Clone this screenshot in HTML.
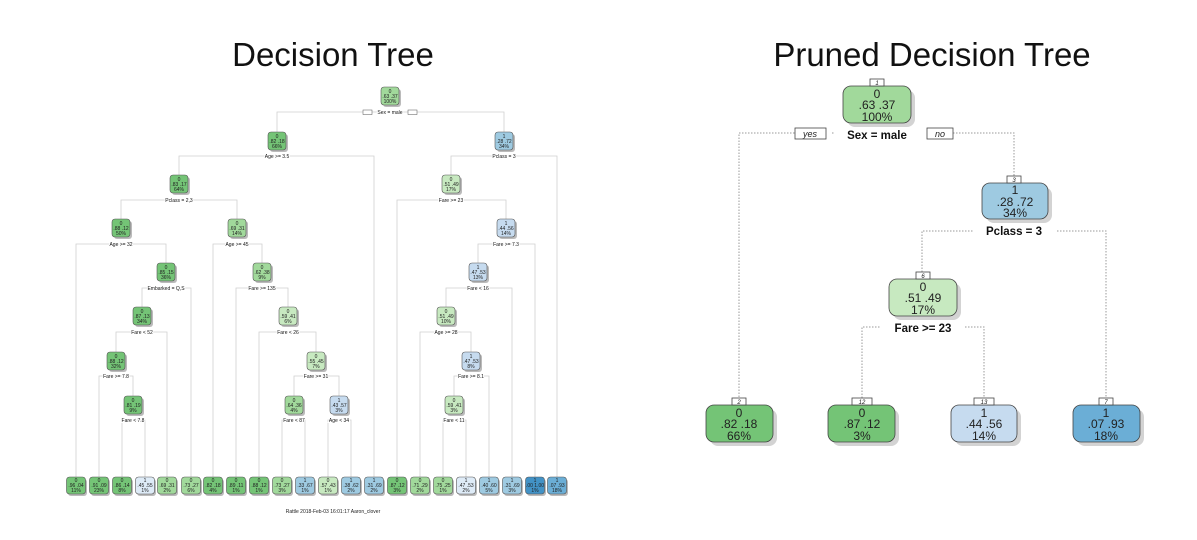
<!DOCTYPE html>
<html><head><meta charset="utf-8"><style>
html,body{margin:0;padding:0;background:#fff;}
svg{display:block;font-family:"Liberation Sans",sans-serif;}
.l text{font-size:5px;text-anchor:middle;fill:#222;}
.l .lb{font-size:5px;stroke:#fff;stroke-width:2px;paint-order:stroke;fill:#111;}
.c{fill:none;stroke:#d0d0d0;stroke-width:0.8;}
.d{fill:none;stroke:#999;stroke-width:1;stroke-dasharray:1.5 1.5;}
.r text{text-anchor:middle;fill:#222;font-size:12px;}
.r .lb{font-weight:bold;font-size:11.5px;fill:#111;}
</style></head><body>
<svg width="1197" height="540" viewBox="0 0 1197 540">
<rect width="1197" height="540" fill="#fff"/>
<text x="333" y="66" font-size="33" text-anchor="middle" fill="#111">Decision Tree</text>
<text x="932" y="66" font-size="33" text-anchor="middle" fill="#111">Pruned Decision Tree</text>

<g class="l">
<path class="c" d="M277,132V112H504V132"/>
<path class="c" d="M179,177V156H374V477"/>
<path class="c" d="M451,177V156H557V477"/>
<path class="c" d="M121,220V200H237V220"/>
<path class="c" d="M397,477V200H506V220"/>
<path class="c" d="M76,477V244H166V263"/>
<path class="c" d="M213,477V244H262V263"/>
<path class="c" d="M478,263V244H535V477"/>
<path class="c" d="M142,307V288H191V477"/>
<path class="c" d="M236,477V288H288V307"/>
<path class="c" d="M446,307V288H512V477"/>
<path class="c" d="M116,352V332H167V477"/>
<path class="c" d="M259,477V332H316V352"/>
<path class="c" d="M420,477V332H471V352"/>
<path class="c" d="M99,477V376H133V396"/>
<path class="c" d="M294,396V376H339V396"/>
<path class="c" d="M454,396V376H489V477"/>
<path class="c" d="M122,477V420H145V477"/>
<path class="c" d="M282,477V420H305V477"/>
<path class="c" d="M328,477V420H351V477"/>
<path class="c" d="M443,477V420H466V477"/>
<rect x="363" y="110" width="9" height="4.5" fill="#fff" stroke="#555" stroke-width="0.5"/>
<rect x="408" y="110" width="9" height="4.5" fill="#fff" stroke="#555" stroke-width="0.5"/>
<text class="lb" x="390" y="114">Sex = male</text>
<text class="lb" x="277" y="158">Age &gt;= 3.5</text>
<text class="lb" x="504" y="158">Pclass = 3</text>
<text class="lb" x="179" y="202">Pclass = 2,3</text>
<text class="lb" x="451" y="202">Fare &gt;= 23</text>
<text class="lb" x="121" y="246">Age &gt;= 32</text>
<text class="lb" x="237" y="246">Age &gt;= 45</text>
<text class="lb" x="506" y="246">Fare &gt;= 7.3</text>
<text class="lb" x="166" y="290">Embarked = Q,S</text>
<text class="lb" x="262" y="290">Fare &gt;= 135</text>
<text class="lb" x="478" y="290">Fare &lt; 16</text>
<text class="lb" x="142" y="334">Fare &lt; 52</text>
<text class="lb" x="288" y="334">Fare &lt; 26</text>
<text class="lb" x="446" y="334">Age &gt;= 28</text>
<text class="lb" x="116" y="378">Fare &gt;= 7.8</text>
<text class="lb" x="316" y="378">Fare &gt;= 31</text>
<text class="lb" x="471" y="378">Fare &gt;= 8.1</text>
<text class="lb" x="133" y="422">Fare &lt; 7.8</text>
<text class="lb" x="294" y="422">Fare &lt; 87</text>
<text class="lb" x="339" y="422">Age &lt; 34</text>
<text class="lb" x="454" y="422">Fare &lt; 11</text>

<g stroke="#555" stroke-width="0.6">
<rect x="383" y="89" width="18" height="18" rx="3" fill="#bbb" stroke="none"/><rect x="381" y="87" width="18" height="18" rx="3" fill="#a1d99b"/>
<rect x="270" y="134" width="18" height="18" rx="3" fill="#bbb" stroke="none"/><rect x="268" y="132" width="18" height="18" rx="3" fill="#74c476"/>
<rect x="497" y="134" width="18" height="18" rx="3" fill="#bbb" stroke="none"/><rect x="495" y="132" width="18" height="18" rx="3" fill="#9ecae1"/>
<rect x="172" y="177" width="18" height="18" rx="3" fill="#bbb" stroke="none"/><rect x="170" y="175" width="18" height="18" rx="3" fill="#74c476"/>
<rect x="444" y="177" width="18" height="18" rx="3" fill="#bbb" stroke="none"/><rect x="442" y="175" width="18" height="18" rx="3" fill="#c7e9c0"/>
<rect x="114" y="221" width="18" height="18" rx="3" fill="#bbb" stroke="none"/><rect x="112" y="219" width="18" height="18" rx="3" fill="#74c476"/>
<rect x="230" y="221" width="18" height="18" rx="3" fill="#bbb" stroke="none"/><rect x="228" y="219" width="18" height="18" rx="3" fill="#a1d99b"/>
<rect x="499" y="221" width="18" height="18" rx="3" fill="#bbb" stroke="none"/><rect x="497" y="219" width="18" height="18" rx="3" fill="#c6dbef"/>
<rect x="159" y="265" width="18" height="18" rx="3" fill="#bbb" stroke="none"/><rect x="157" y="263" width="18" height="18" rx="3" fill="#74c476"/>
<rect x="255" y="265" width="18" height="18" rx="3" fill="#bbb" stroke="none"/><rect x="253" y="263" width="18" height="18" rx="3" fill="#a1d99b"/>
<rect x="471" y="265" width="18" height="18" rx="3" fill="#bbb" stroke="none"/><rect x="469" y="263" width="18" height="18" rx="3" fill="#c6dbef"/>
<rect x="135" y="309" width="18" height="18" rx="3" fill="#bbb" stroke="none"/><rect x="133" y="307" width="18" height="18" rx="3" fill="#74c476"/>
<rect x="281" y="309" width="18" height="18" rx="3" fill="#bbb" stroke="none"/><rect x="279" y="307" width="18" height="18" rx="3" fill="#c7e9c0"/>
<rect x="439" y="309" width="18" height="18" rx="3" fill="#bbb" stroke="none"/><rect x="437" y="307" width="18" height="18" rx="3" fill="#c7e9c0"/>
<rect x="109" y="354" width="18" height="18" rx="3" fill="#bbb" stroke="none"/><rect x="107" y="352" width="18" height="18" rx="3" fill="#74c476"/>
<rect x="309" y="354" width="18" height="18" rx="3" fill="#bbb" stroke="none"/><rect x="307" y="352" width="18" height="18" rx="3" fill="#c7e9c0"/>
<rect x="464" y="354" width="18" height="18" rx="3" fill="#bbb" stroke="none"/><rect x="462" y="352" width="18" height="18" rx="3" fill="#c6dbef"/>
<rect x="126" y="398" width="18" height="18" rx="3" fill="#bbb" stroke="none"/><rect x="124" y="396" width="18" height="18" rx="3" fill="#74c476"/>
<rect x="287" y="398" width="18" height="18" rx="3" fill="#bbb" stroke="none"/><rect x="285" y="396" width="18" height="18" rx="3" fill="#a1d99b"/>
<rect x="332" y="398" width="18" height="18" rx="3" fill="#bbb" stroke="none"/><rect x="330" y="396" width="18" height="18" rx="3" fill="#c6dbef"/>
<rect x="447" y="398" width="18" height="18" rx="3" fill="#bbb" stroke="none"/><rect x="445" y="396" width="18" height="18" rx="3" fill="#c7e9c0"/>
</g>
<text x="390" y="93">0</text><text x="390" y="98">.63 .37</text><text x="390" y="103">100%</text>
<text x="277" y="138">0</text><text x="277" y="143">.82 .18</text><text x="277" y="148">66%</text>
<text x="504" y="138">1</text><text x="504" y="143">.28 .72</text><text x="504" y="148">34%</text>
<text x="179" y="181">0</text><text x="179" y="186">.83 .17</text><text x="179" y="191">64%</text>
<text x="451" y="181">0</text><text x="451" y="186">.51 .49</text><text x="451" y="191">17%</text>
<text x="121" y="225">0</text><text x="121" y="230">.88 .12</text><text x="121" y="235">50%</text>
<text x="237" y="225">0</text><text x="237" y="230">.69 .31</text><text x="237" y="235">14%</text>
<text x="506" y="225">1</text><text x="506" y="230">.44 .56</text><text x="506" y="235">14%</text>
<text x="166" y="269">0</text><text x="166" y="274">.85 .15</text><text x="166" y="279">36%</text>
<text x="262" y="269">0</text><text x="262" y="274">.62 .38</text><text x="262" y="279">9%</text>
<text x="478" y="269">1</text><text x="478" y="274">.47 .53</text><text x="478" y="279">13%</text>
<text x="142" y="313">0</text><text x="142" y="318">.87 .13</text><text x="142" y="323">34%</text>
<text x="288" y="313">0</text><text x="288" y="318">.59 .41</text><text x="288" y="323">6%</text>
<text x="446" y="313">0</text><text x="446" y="318">.51 .49</text><text x="446" y="323">10%</text>
<text x="116" y="358">0</text><text x="116" y="363">.88 .12</text><text x="116" y="368">32%</text>
<text x="316" y="358">0</text><text x="316" y="363">.55 .45</text><text x="316" y="368">7%</text>
<text x="471" y="358">1</text><text x="471" y="363">.47 .53</text><text x="471" y="368">8%</text>
<text x="133" y="402">0</text><text x="133" y="407">.81 .19</text><text x="133" y="412">9%</text>
<text x="294" y="402">0</text><text x="294" y="407">.64 .36</text><text x="294" y="412">4%</text>
<text x="339" y="402">1</text><text x="339" y="407">.43 .57</text><text x="339" y="412">3%</text>
<text x="454" y="402">0</text><text x="454" y="407">.59 .41</text><text x="454" y="412">3%</text>

<g stroke="#555" stroke-width="0.6">
<rect x="68" y="479" width="19" height="17" rx="3" fill="#bbb" stroke="none"/><rect x="66.5" y="477" width="19" height="17" rx="3" fill="#74c476"/>
<rect x="91" y="479" width="19" height="17" rx="3" fill="#bbb" stroke="none"/><rect x="89.5" y="477" width="19" height="17" rx="3" fill="#74c476"/>
<rect x="114" y="479" width="19" height="17" rx="3" fill="#bbb" stroke="none"/><rect x="112.5" y="477" width="19" height="17" rx="3" fill="#74c476"/>
<rect x="137" y="479" width="19" height="17" rx="3" fill="#bbb" stroke="none"/><rect x="135.5" y="477" width="19" height="17" rx="3" fill="#deebf7"/>
<rect x="159" y="479" width="19" height="17" rx="3" fill="#bbb" stroke="none"/><rect x="157.5" y="477" width="19" height="17" rx="3" fill="#a1d99b"/>
<rect x="183" y="479" width="19" height="17" rx="3" fill="#bbb" stroke="none"/><rect x="181.5" y="477" width="19" height="17" rx="3" fill="#a1d99b"/>
<rect x="205" y="479" width="19" height="17" rx="3" fill="#bbb" stroke="none"/><rect x="203.5" y="477" width="19" height="17" rx="3" fill="#74c476"/>
<rect x="228" y="479" width="19" height="17" rx="3" fill="#bbb" stroke="none"/><rect x="226.5" y="477" width="19" height="17" rx="3" fill="#74c476"/>
<rect x="251" y="479" width="19" height="17" rx="3" fill="#bbb" stroke="none"/><rect x="249.5" y="477" width="19" height="17" rx="3" fill="#74c476"/>
<rect x="274" y="479" width="19" height="17" rx="3" fill="#bbb" stroke="none"/><rect x="272.5" y="477" width="19" height="17" rx="3" fill="#a1d99b"/>
<rect x="297" y="479" width="19" height="17" rx="3" fill="#bbb" stroke="none"/><rect x="295.5" y="477" width="19" height="17" rx="3" fill="#9ecae1"/>
<rect x="320" y="479" width="19" height="17" rx="3" fill="#bbb" stroke="none"/><rect x="318.5" y="477" width="19" height="17" rx="3" fill="#c7e9c0"/>
<rect x="343" y="479" width="19" height="17" rx="3" fill="#bbb" stroke="none"/><rect x="341.5" y="477" width="19" height="17" rx="3" fill="#9ecae1"/>
<rect x="366" y="479" width="19" height="17" rx="3" fill="#bbb" stroke="none"/><rect x="364.5" y="477" width="19" height="17" rx="3" fill="#9ecae1"/>
<rect x="389" y="479" width="19" height="17" rx="3" fill="#bbb" stroke="none"/><rect x="387.5" y="477" width="19" height="17" rx="3" fill="#74c476"/>
<rect x="412" y="479" width="19" height="17" rx="3" fill="#bbb" stroke="none"/><rect x="410.5" y="477" width="19" height="17" rx="3" fill="#a1d99b"/>
<rect x="435" y="479" width="19" height="17" rx="3" fill="#bbb" stroke="none"/><rect x="433.5" y="477" width="19" height="17" rx="3" fill="#a1d99b"/>
<rect x="458" y="479" width="19" height="17" rx="3" fill="#bbb" stroke="none"/><rect x="456.5" y="477" width="19" height="17" rx="3" fill="#deebf7"/>
<rect x="481" y="479" width="19" height="17" rx="3" fill="#bbb" stroke="none"/><rect x="479.5" y="477" width="19" height="17" rx="3" fill="#9ecae1"/>
<rect x="504" y="479" width="19" height="17" rx="3" fill="#bbb" stroke="none"/><rect x="502.5" y="477" width="19" height="17" rx="3" fill="#9ecae1"/>
<rect x="527" y="479" width="19" height="17" rx="3" fill="#bbb" stroke="none"/><rect x="525.5" y="477" width="19" height="17" rx="3" fill="#4292c6"/>
<rect x="549" y="479" width="19" height="17" rx="3" fill="#bbb" stroke="none"/><rect x="547.5" y="477" width="19" height="17" rx="3" fill="#6baed6"/>
</g>
<text x="76" y="482">0</text><text x="76" y="487">.96 .04</text><text x="76" y="492">11%</text>
<text x="99" y="482">0</text><text x="99" y="487">.91 .09</text><text x="99" y="492">23%</text>
<text x="122" y="482">0</text><text x="122" y="487">.86 .14</text><text x="122" y="492">8%</text>
<text x="145" y="482">1</text><text x="145" y="487">.45 .55</text><text x="145" y="492">1%</text>
<text x="167" y="482">0</text><text x="167" y="487">.69 .31</text><text x="167" y="492">2%</text>
<text x="191" y="482">0</text><text x="191" y="487">.73 .27</text><text x="191" y="492">6%</text>
<text x="213" y="482">0</text><text x="213" y="487">.82 .18</text><text x="213" y="492">4%</text>
<text x="236" y="482">0</text><text x="236" y="487">.89 .11</text><text x="236" y="492">1%</text>
<text x="259" y="482">0</text><text x="259" y="487">.88 .12</text><text x="259" y="492">1%</text>
<text x="282" y="482">0</text><text x="282" y="487">.73 .27</text><text x="282" y="492">3%</text>
<text x="305" y="482">1</text><text x="305" y="487">.33 .67</text><text x="305" y="492">1%</text>
<text x="328" y="482">0</text><text x="328" y="487">.57 .43</text><text x="328" y="492">1%</text>
<text x="351" y="482">1</text><text x="351" y="487">.38 .62</text><text x="351" y="492">2%</text>
<text x="374" y="482">1</text><text x="374" y="487">.31 .69</text><text x="374" y="492">2%</text>
<text x="397" y="482">0</text><text x="397" y="487">.87 .12</text><text x="397" y="492">3%</text>
<text x="420" y="482">0</text><text x="420" y="487">.71 .29</text><text x="420" y="492">2%</text>
<text x="443" y="482">0</text><text x="443" y="487">.75 .25</text><text x="443" y="492">1%</text>
<text x="466" y="482">1</text><text x="466" y="487">.47 .53</text><text x="466" y="492">2%</text>
<text x="489" y="482">1</text><text x="489" y="487">.40 .60</text><text x="489" y="492">5%</text>
<text x="512" y="482">1</text><text x="512" y="487">.31 .69</text><text x="512" y="492">3%</text>
<text x="535" y="482">1</text><text x="535" y="487">.00 1.00</text><text x="535" y="492">1%</text>
<text x="557" y="482">1</text><text x="557" y="487">.07 .93</text><text x="557" y="492">18%</text>
<text x="333" y="513" style="font-size:5px">Rattle 2018-Feb-03 16:01:17 Aaron_clover</text>
</g>

<g class="r">
<path class="d" d="M739,400V133H795"/>
<path class="d" d="M832,133H834"/>
<path class="d" d="M953,133H1014V176"/>
<path class="d" d="M922,272V231H973"/>
<path class="d" d="M1057,231H1106V398"/>
<path class="d" d="M862,398V327H880"/>
<path class="d" d="M965,327H984V398"/>
<rect x="795" y="128" width="31" height="11" fill="#fff" stroke="#444" stroke-width="0.8"/>
<text x="810" y="137" style="font-size:9px;font-style:italic">yes</text>
<rect x="927" y="128" width="26" height="11" fill="#fff" stroke="#444" stroke-width="0.8"/>
<text x="940" y="137" style="font-size:9px;font-style:italic">no</text>
<text class="lb" x="877" y="139">Sex = male</text>
<text class="lb" x="1014" y="235">Pclass = 3</text>
<text class="lb" x="923" y="332">Fare &gt;= 23</text>
<g stroke="#444" stroke-width="0.8">
<rect x="847" y="90" width="68" height="37" rx="8" fill="#c8c8c8" stroke="none" opacity="0.8"/>
<rect x="843" y="86" width="68" height="37" rx="8" fill="#a1d99b"/>
<rect x="986" y="187" width="66" height="36" rx="8" fill="#c8c8c8" stroke="none" opacity="0.8"/>
<rect x="982" y="183" width="66" height="36" rx="8" fill="#9ecae1"/>
<rect x="893" y="283" width="68" height="37" rx="8" fill="#c8c8c8" stroke="none" opacity="0.8"/>
<rect x="889" y="279" width="68" height="37" rx="8" fill="#c7e9c0"/>
<rect x="710" y="409" width="67" height="37" rx="8" fill="#c8c8c8" stroke="none" opacity="0.8"/>
<rect x="706" y="405" width="67" height="37" rx="8" fill="#74c476"/>
<rect x="832" y="409" width="67" height="37" rx="8" fill="#c8c8c8" stroke="none" opacity="0.8"/>
<rect x="828" y="405" width="67" height="37" rx="8" fill="#74c476"/>
<rect x="955" y="409" width="66" height="37" rx="8" fill="#c8c8c8" stroke="none" opacity="0.8"/>
<rect x="951" y="405" width="66" height="37" rx="8" fill="#c6dbef"/>
<rect x="1077" y="409" width="67" height="37" rx="8" fill="#c8c8c8" stroke="none" opacity="0.8"/>
<rect x="1073" y="405" width="67" height="37" rx="8" fill="#6baed6"/>
<rect x="870" y="79" width="14" height="7" fill="#fff"/>
<rect x="1007" y="176" width="14" height="7" fill="#fff"/>
<rect x="916" y="272" width="14" height="7" fill="#fff"/>
<rect x="732" y="398" width="14" height="7" fill="#fff"/>
<rect x="852" y="398" width="20" height="7" fill="#fff"/>
<rect x="974" y="398" width="20" height="7" fill="#fff"/>
<rect x="1099" y="398" width="14" height="7" fill="#fff"/>
</g>
<g style="font-size:6px;font-style:italic">
<text x="877" y="85" style="font-size:6px">1</text><text x="1014" y="182" style="font-size:6px">3</text>
<text x="923" y="278" style="font-size:6px">6</text><text x="739" y="404" style="font-size:6px">2</text>
<text x="862" y="404" style="font-size:6px">12</text><text x="984" y="404" style="font-size:6px">13</text>
<text x="1106" y="404" style="font-size:6px">7</text>
</g>
<text x="877" y="98">0</text><text x="877" y="109">.63  .37</text><text x="877" y="121">100%</text>
<text x="1015" y="194">1</text><text x="1015" y="206">.28  .72</text><text x="1015" y="217">34%</text>
<text x="923" y="291">0</text><text x="923" y="302">.51  .49</text><text x="923" y="314">17%</text>
<text x="739" y="417">0</text><text x="739" y="428">.82  .18</text><text x="739" y="440">66%</text>
<text x="862" y="417">0</text><text x="862" y="428">.87  .12</text><text x="862" y="440">3%</text>
<text x="984" y="417">1</text><text x="984" y="428">.44  .56</text><text x="984" y="440">14%</text>
<text x="1106" y="417">1</text><text x="1106" y="428">.07  .93</text><text x="1106" y="440">18%</text>
</g>
</svg>
</body></html>
